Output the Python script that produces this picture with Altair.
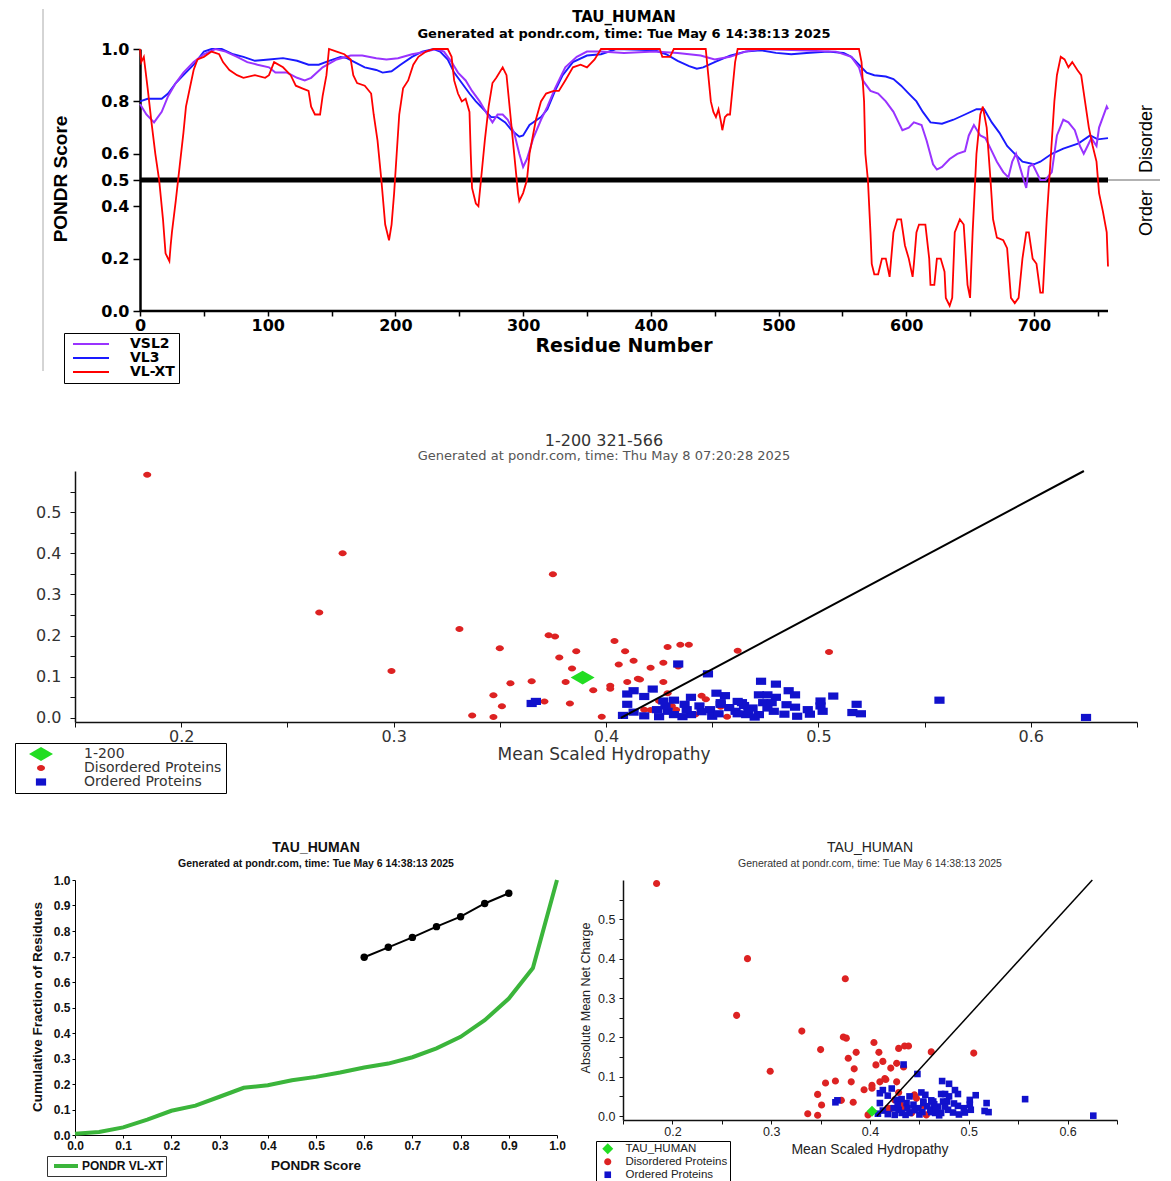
import altair as alt
import pandas as pd

# ------------------------------------------------------------------ data
# Top panel: PONDR predictions (residue, score)
VLXT = [(0,1.0),(1,0.95),(3,0.97),(6,0.85),(9,0.72),(12,0.6),(15,0.5),(18,0.35),(20,0.22),(22,0.2),(23,0.19),(24,0.25),(25,0.3),(28,0.42),(31,0.55),(34,0.68),(36,0.78),(39,0.85),(42,0.92),(45,0.96),(50,0.97),(56,0.99),(62,0.98),(65,0.95),(70,0.92),(76,0.9),(81,0.89),(90,0.9),(98,0.89),(101,0.9),(105,0.95),(112,0.93),(118,0.9),(122,0.86),(127,0.85),(132,0.84),(134,0.78),(137,0.75),(141,0.75),(143,0.82),(146,0.9),(148,1.0),(154,0.99),(160,0.98),(165,0.96),(167,0.9),(170,0.87),(176,0.86),(181,0.83),(183,0.75),(186,0.65),(189,0.5),(192,0.33),(195,0.27),(197,0.33),(199,0.45),(201,0.6),(203,0.75),(206,0.85),(210,0.88),(214,0.94),(218,0.97),(224,0.99),(230,1.0),(241,1.0),(244,0.97),(246,0.88),(249,0.83),(252,0.8),(255,0.81),(258,0.76),(259,0.6),(260,0.47),(263,0.41),(265,0.4),(267,0.5),(270,0.65),(273,0.78),(276,0.87),(279,0.89),(284,0.93),(287,0.9),(290,0.75),(293,0.6),(296,0.45),(297,0.42),(300,0.45),(303,0.5),(305,0.6),(310,0.73),(314,0.8),(318,0.83),(324,0.84),(328,0.84),(333,0.88),(339,0.93),(345,0.94),(350,0.93),(356,0.96),(361,1.0),(407,1.0),(409,0.97),(415,0.97),(418,1.0),(443,1.0),(445,0.9),(447,0.8),(449,0.76),(451,0.74),(453,0.77),(455,0.72),(456,0.69),(458,0.74),(460,0.75),(462,0.75),(464,0.85),(466,0.95),(468,1.0),(563,1.0),(565,0.95),(567,0.8),(568,0.6),(570,0.5),(572,0.3),(573,0.18),(575,0.14),(578,0.14),(581,0.2),(584,0.2),(587,0.13),(590,0.3),(593,0.35),(596,0.35),(599,0.25),(602,0.2),(605,0.13),(606,0.18),(608,0.3),(610,0.33),(615,0.33),(618,0.2),(619,0.1),(622,0.1),(624,0.2),(627,0.2),(630,0.15),(631,0.05),(634,0.02),(636,0.05),(638,0.3),(642,0.35),(645,0.33),(648,0.1),(650,0.05),(652,0.3),(655,0.6),(658,0.75),(660,0.78),(663,0.7),(666,0.5),(668,0.35),(671,0.28),(676,0.27),(679,0.24),(682,0.05),(685,0.03),(688,0.05),(691,0.2),(694,0.3),(696,0.3),(699,0.2),(702,0.18),(705,0.07),(707,0.07),(710,0.35),(712,0.5),(716,0.8),(718,0.9),(721,0.97),(724,0.96),(727,0.93),(730,0.95),(734,0.92),(737,0.9),(740,0.8),(743,0.7),(746,0.63),(749,0.57),(751,0.45),(754,0.38),(757,0.3),(758,0.17)]
VL3 = [(0,0.8),(6,0.81),(17,0.81),(22,0.83),(28,0.87),(34,0.9),(42,0.94),(50,0.99),(56,1.0),(64,1.0),(73,0.98),(81,0.97),(90,0.955),(101,0.96),(112,0.965),(123,0.955),(132,0.94),(140,0.94),(148,0.955),(157,0.97),(162,0.965),(168,0.95),(176,0.93),(185,0.92),(190,0.91),(197,0.915),(204,0.94),(213,0.97),(221,0.99),(230,1.0),(235,0.99),(241,0.96),(246,0.91),(252,0.87),(258,0.83),(263,0.8),(269,0.77),(275,0.74),(280,0.74),(286,0.72),(291,0.69),(297,0.665),(300,0.67),(305,0.71),(314,0.74),(319,0.77),(325,0.84),(331,0.9),(339,0.95),(350,0.975),(361,0.98),(373,1.0),(403,0.995),(412,0.98),(421,0.955),(430,0.935),(436,0.925),(441,0.93),(450,0.95),(462,0.975),(474,0.99),(486,0.995),(498,0.985),(510,0.98),(522,0.985),(539,0.99),(551,0.985),(557,0.97),(563,0.94),(569,0.91),(575,0.9),(584,0.895),(590,0.885),(596,0.86),(602,0.83),(608,0.8),(613,0.76),(619,0.72),(628,0.715),(637,0.73),(646,0.75),(655,0.77),(661,0.77),(667,0.72),(673,0.68),(679,0.63),(685,0.6),(691,0.57),(700,0.56),(705,0.57),(714,0.6),(723,0.62),(735,0.64),(744,0.67),(750,0.655),(758,0.66)]
VSL2 = [(0,0.79),(5,0.75),(11,0.72),(17,0.76),(22,0.82),(28,0.87),(34,0.91),(42,0.95),(50,0.98),(59,1.0),(67,0.99),(76,0.97),(84,0.95),(92,0.94),(101,0.93),(106,0.91),(115,0.91),(123,0.89),(129,0.88),(134,0.89),(143,0.93),(154,0.96),(165,0.975),(174,0.975),(185,0.965),(193,0.96),(202,0.965),(213,0.98),(224,0.99),(232,1.0),(238,0.99),(244,0.95),(249,0.91),(255,0.88),(260,0.84),(266,0.8),(272,0.75),(276,0.72),(280,0.75),(284,0.75),(288,0.73),(293,0.68),(297,0.6),(300,0.55),(303,0.58),(308,0.66),(314,0.73),(319,0.78),(325,0.85),(333,0.93),(342,0.97),(350,0.99),(361,0.99),(379,0.985),(403,0.99),(421,0.985),(439,0.975),(450,0.96),(462,0.97),(474,0.99),(486,1.0),(545,0.99),(557,0.97),(563,0.93),(566,0.88),(572,0.84),(578,0.83),(584,0.8),(590,0.76),(594,0.72),(597,0.69),(602,0.7),(606,0.72),(612,0.71),(616,0.65),(621,0.56),(624,0.54),(628,0.55),(634,0.58),(640,0.6),(646,0.61),(649,0.67),(653,0.71),(658,0.67),(662,0.66),(667,0.61),(671,0.57),(676,0.53),(680,0.51),(683,0.57),(686,0.6),(689,0.55),(692,0.5),(694,0.47),(696,0.55),(699,0.56),(702,0.53),(705,0.5),(709,0.5),(714,0.53),(718,0.67),(723,0.73),(727,0.72),(732,0.69),(736,0.63),(739,0.6),(742,0.63),(745,0.66),(749,0.63),(751,0.7),(754,0.74),(757,0.78),(758,0.77)]
PREDICTORS = ["VSL2", "VL3", "VL-XT"]
PRED_COLORS = ["#9933ff", "#1a1aff", "#ff0000"]
TOP_Y_TICKS = [0.0, 0.2, 0.4, 0.5, 0.6, 0.8, 1.0]
SEQ_LEN = 758

# Charge-hydropathy reference sets
DIS_H = [0.184,0.276,0.265,0.375,0.331,0.299,0.350,0.373,0.376,0.404,0.409,0.386,0.378,0.384,0.406,0.413,0.429,0.435,0.439,0.434,0.427,0.421,0.415,0.410,0.427,0.402,0.402,0.394,0.381,0.365,0.355,0.347,0.351,0.371,0.383,0.337,0.347,0.462,0.505,0.429,0.425,0.418,0.433,0.445,0.447,0.454,0.442,0.457,0.421,0.398,0.431,0.416]
DIS_C = [0.591,0.400,0.256,0.349,0.216,0.114,0.169,0.201,0.198,0.187,0.162,0.162,0.147,0.120,0.130,0.139,0.172,0.178,0.178,0.125,0.134,0.122,0.095,0.087,0.087,0.078,0.071,0.067,0.087,0.089,0.084,0.055,0.028,0.040,0.035,0.006,0.002,0.163,0.160,0.060,0.041,0.020,0.020,0.054,0.045,0.027,0.008,0.003,0.019,0.003,0.029,0.093]
ORD_H = [0.365,0.367,0.434,0.448,0.413,0.410,0.422,0.410,0.413,0.408,
         0.427,0.432,0.437,0.424,0.429,0.432,0.440,0.444,0.449,0.454,
         0.456,0.461,0.464,0.469,0.466,0.425,0.436,0.473,0.480,0.486,
         0.489,0.472,0.476,0.480,0.474,0.478,0.465,0.462,0.452,0.454,
         0.489,0.501,0.507,0.501,0.502,0.496,0.518,0.516,0.520,0.557,
         0.626,0.484,0.472,0.462,0.467,0.479,0.418,0.445,0.450,0.458,
         0.470,0.490,0.495,0.440,0.438,0.453,0.476,0.485,0.428,0.418]
ORD_C = [0.035,0.040,0.131,0.107,0.066,0.058,0.070,0.033,0.014,0.006,
         0.041,0.043,0.033,0.020,0.016,0.008,0.008,0.029,0.020,0.037,
         0.054,0.016,0.037,0.024,0.008,0.003,0.003,0.089,0.082,0.066,
         0.056,0.056,0.056,0.050,0.037,0.037,0.030,0.040,0.060,0.033,
         0.026,0.041,0.053,0.029,0.016,0.009,0.033,0.013,0.010,0.043,
         0.001,0.009,0.008,0.010,0.016,0.016,0.005,0.015,0.004,0.025,
         0.002,0.004,0.020,0.050,0.020,0.010,0.024,0.032,0.029,0.052]
BOUNDARY_H = [0.407, 0.625]
BOUNDARY_C = [0.0, 0.6]
REGION_POINT = (0.389, 0.098)   # "1-200"
TAU_POINT = (0.402, 0.012)      # TAU_HUMAN
SC_TICKS_X = [0.15, 0.2, 0.25, 0.3, 0.35, 0.4, 0.45, 0.5, 0.55, 0.6, 0.65]
SC_TICKS_Y = [0.0, 0.05, 0.1, 0.15, 0.2, 0.25, 0.3, 0.35, 0.4, 0.45, 0.5, 0.55]

# CDF panel
CDF_X = [0.0,0.05,0.1,0.15,0.2,0.25,0.3,0.35,0.4,0.45,0.5,0.55,0.6,0.65,0.7,0.75,0.8,0.85,0.9,0.95,1.0]
CDF_Y = [0.005,0.012,0.03,0.06,0.095,0.115,0.15,0.185,0.195,0.215,0.228,0.245,0.265,0.28,0.305,0.34,0.385,0.45,0.535,0.655,1.0]
REF_X = [0.6,0.65,0.7,0.75,0.8,0.85,0.9]
REF_Y = [0.697,0.736,0.775,0.817,0.856,0.908,0.948]
CDF_TICKS = [0.0,0.1,0.2,0.3,0.4,0.5,0.6,0.7,0.8,0.9,1.0]

GREEN_PT = "#22dd22"
RED_PT = "#dd2222"
BLUE_PT = "#1111cc"
SUB_TOP = "Generated at pondr.com, time: Tue May  6 14:38:13 2025"
SUB_MID = "Generated at pondr.com, time: Thu May  8 07:20:28 2025"

WIDE = "DejaVu Sans"
NARROW = "Liberation Sans Narrow, Liberation Sans"
ARIAL = "Liberation Sans"


def txt(s, x, y, size, font, weight="normal", color="black", angle=0,
        align="center", baseline="middle"):
    return alt.Chart(pd.DataFrame({"t": [s]})).mark_text(
        font=font, fontSize=size, fontWeight=weight, color=color, angle=angle,
        align=align, baseline=baseline
    ).encode(x=alt.value(x), y=alt.value(y), text="t:N")


def anchor(x, y):
    return alt.Chart(pd.DataFrame({"t": ["."]})).mark_text(
        fontSize=1, opacity=0, align="left", baseline="top"
    ).encode(x=alt.value(x), y=alt.value(y), text="t:N")


LBL_EXPR = "round(datum.value*100) % 10 === 0 ? format(datum.value, '.1f') : ''"

# ------------------------------------------------------------------ top panel
# plot origin shared with the panels below; the residue axis starts 65 px in
PX_PER_RES = 968 / SEQ_LEN
LEFT_GAP = 65
TOP_W, TOP_H = 968 + LEFT_GAP, 262
rows = []
for name, series in (("VL3", VL3), ("VSL2", VSL2), ("VL-XT", VLXT)):
    for r, v in series:
        rows.append({"residue": r, "score": v, "predictor": name})
top_df = pd.DataFrame(rows)

x_top = alt.X("residue:Q",
              scale=alt.Scale(domain=[-LEFT_GAP / PX_PER_RES, SEQ_LEN], nice=False, zero=False),
              axis=alt.Axis(values=list(range(0, 751, 50)),
                            labelExpr="datum.value % 100 === 0 ? datum.label : ''",
                            title=None, grid=False, domain=False,
                            tickColor="black", tickWidth=1.5, tickSize=5,
                            labelFont=WIDE, labelFontWeight="bold", labelFontSize=16,
                            labelColor="black", labelPadding=1, labelOverlap=False,
                            labelFlush=False, labelBound=False))
y_top = alt.Y("score:Q", scale=alt.Scale(domain=[0, 1], nice=False, zero=False),
              axis=alt.Axis(values=TOP_Y_TICKS, format=".1f", title=None, grid=False,
                            offset=-LEFT_GAP,
                            domainColor="black", domainWidth=2.5, tickColor="black",
                            tickWidth=1.5, tickSize=7, labelFont=WIDE, labelFontWeight="bold",
                            labelFontSize=16, labelColor="black", labelPadding=4,
                            labelOverlap=False, labelFlush=False, labelBound=False))

half_df = pd.DataFrame({"score": [0.5]})
rule05 = alt.Chart(half_df).mark_rule(color="black", strokeWidth=5).encode(
    y=y_top, x=alt.datum(0), x2=alt.datum(SEQ_LEN))
rule_ext = alt.Chart(half_df).mark_rule(color="#666", strokeWidth=1).encode(
    y=y_top, x=alt.datum(SEQ_LEN), x2=alt.value(1085))
x_base = alt.Chart(pd.DataFrame({"t": [0]})).mark_rule(color="black", strokeWidth=2.5).encode(
    x=alt.datum(0), x2=alt.datum(SEQ_LEN), y=alt.value(TOP_H))
border = alt.Chart(pd.DataFrame({"t": [0]})).mark_rule(color="#aaa", strokeWidth=1).encode(
    x=alt.value(-32), y=alt.value(-40), y2=alt.value(322))

top_lines = alt.Chart(top_df).mark_line().encode(
    x=x_top, y=y_top,
    color=alt.Color("predictor:N",
                    scale=alt.Scale(domain=PREDICTORS, range=PRED_COLORS),
                    legend=alt.Legend(title=None, orient="none", legendX=-11, legendY=284,
                                      strokeColor="black", padding=4, rowPadding=0,
                                      symbolType="M-3,0H3", symbolSize=144,
                                      symbolStrokeWidth=2, symbolOffset=16, labelOffset=32,
                                      labelFont=WIDE, labelFontWeight="bold",
                                      labelFontSize=14, labelColor="black")),
    strokeWidth=alt.StrokeWidth("predictor:N",
                                scale=alt.Scale(domain=PREDICTORS, range=[2.0, 1.8, 2.6]),
                                legend=None),
)

TOP_CX = LEFT_GAP + 484
top = alt.layer(
    border, rule05, rule_ext, x_base, top_lines,
    txt("TAU_HUMAN", TOP_CX, -32, 15, WIDE, "bold"),
    txt(SUB_TOP, TOP_CX, -15, 13, WIDE, "bold"),
    txt("Residue Number", TOP_CX, 297, 19, WIDE, "bold"),
    txt("PONDR Score", -14, 130, 19, NARROW, "bold", angle=270),
    txt("Disorder", 1072, 90, 18, NARROW, angle=270),
    txt("Order", 1072, 164, 18, NARROW, angle=270),
    anchor(-67, -40), anchor(-67, 360),
).properties(width=TOP_W, height=TOP_H)


# ------------------------------------------------------------------ scatter builder
def scatter(point_label, point, shapes, font, lab_size, lab_color, legend_kw,
            line_w, sym_size, x_pad, y_pad, tick):
    df = pd.DataFrame({
        "hydropathy": DIS_H + ORD_H + [point[0]],
        "charge": DIS_C + ORD_C + [point[1]],
        "set": ["Disordered Proteins"] * len(DIS_H) + ["Ordered Proteins"] * len(ORD_H) + [point_label],
    })
    domain = [point_label, "Disordered Proteins", "Ordered Proteins"]
    ax_common = dict(title=None, grid=False, domainColor="#111", domainWidth=1.5,
                     tickColor="#111", tickWidth=1, tickSize=tick, labelFont=font,
                     labelFontSize=lab_size, labelColor=lab_color, labelExpr=LBL_EXPR,
                     labelOverlap=False, labelFlush=False, labelBound=False)
    x = alt.X("hydropathy:Q", scale=alt.Scale(domain=[0.15, 0.65], nice=False, zero=False),
              axis=alt.Axis(values=SC_TICKS_X, labelPadding=x_pad, **ax_common))
    y = alt.Y("charge:Q", scale=alt.Scale(domain=[-0.01, 0.6], nice=False, zero=False),
              axis=alt.Axis(values=SC_TICKS_Y, labelPadding=y_pad, **ax_common))
    leg = alt.Legend(title=None, orient="none", strokeColor="black", rowPadding=0,
                     symbolSize=sym_size, symbolStrokeWidth=0, labelFont=font,
                     labelColor=lab_color, **legend_kw)
    pts = alt.Chart(df).mark_point(filled=True, size=sym_size, opacity=1, strokeWidth=0).encode(
        x=x, y=y,
        color=alt.Color("set:N", scale=alt.Scale(domain=domain, range=[GREEN_PT, RED_PT, BLUE_PT]),
                        legend=leg),
        shape=alt.Shape("set:N", scale=alt.Scale(domain=domain, range=shapes), legend=leg),
    )
    bdf = pd.DataFrame({"hydropathy": BOUNDARY_H, "charge": BOUNDARY_C})
    bline = alt.Chart(bdf).mark_line(color="black", strokeWidth=line_w).encode(x=x, y=y)
    return pts, bline


# ------------------------------------------------------------------ middle panel
MID_W, MID_H = 1062, 251
mid_shapes = ["M-2,0L0,-1.15L2,0L0,1.15Z",
              "M-0.67,0A0.67,0.5 0 1,0 0.67,0A0.67,0.5 0 1,0 -0.67,0Z",
              "M-0.85,-0.6H0.85V0.6H-0.85Z"]
mid_pts, mid_line = scatter(
    "1-200", REGION_POINT, mid_shapes, WIDE, 16, "#333",
    dict(legendX=-60, legendY=272, padding=4, symbolOffset=15, labelOffset=36, labelFontSize=14),
    2, 144, 1, 9, 5)
middle = alt.layer(
    mid_pts, mid_line,
    txt("1-200 321-566", MID_W / 2 - 2, -30, 16, WIDE, color="#333"),
    txt(SUB_MID, MID_W / 2 - 2, -15, 13, WIDE, color="#555"),
    txt("Mean Scaled Hydropathy", MID_W / 2 - 2, 284, 17, WIDE, color="#333"),
    anchor(-67, -61), anchor(-67, 361),
).properties(width=MID_W, height=MID_H)

# ------------------------------------------------------------------ bottom-left (CDF)
BL_W, BL_H = 482, 255
bl_ax = dict(values=CDF_TICKS, format=".1f", title=None, grid=False, domainColor="black",
             domainWidth=1, tickColor="black", tickSize=3, labelFont=ARIAL,
             labelFontWeight="bold", labelFontSize=12, labelColor="#111",
             labelOverlap=False, labelFlush=False, labelBound=False)
x_bl = alt.X("score:Q", scale=alt.Scale(domain=[0, 1], nice=False, zero=False),
             axis=alt.Axis(labelPadding=2, **bl_ax))
y_bl = alt.Y("fraction:Q", scale=alt.Scale(domain=[0, 1], nice=False, zero=False),
             axis=alt.Axis(labelPadding=2, **bl_ax))
cdf_df = pd.DataFrame({"score": CDF_X, "fraction": CDF_Y, "series": ["PONDR VL-XT"] * len(CDF_X)})
ref_df = pd.DataFrame({"score": REF_X, "fraction": REF_Y})
cdf_line = alt.Chart(cdf_df).mark_line(strokeWidth=4).encode(
    x=x_bl, y=y_bl,
    color=alt.Color("series:N", scale=alt.Scale(domain=["PONDR VL-XT"], range=["#3bb53b"]),
                    legend=alt.Legend(title=None, orient="none", legendX=-28, legendY=276,
                                      strokeColor="#333", padding=2, symbolType="M-2,0H2",
                                      symbolSize=144, symbolStrokeWidth=4, symbolOffset=9,
                                      labelOffset=8, labelFont=ARIAL, labelFontWeight="bold",
                                      labelFontSize=12, labelColor="#111")))
ref_line = alt.Chart(ref_df).mark_line(
    color="black", strokeWidth=2,
    point=alt.OverlayMarkDef(filled=True, size=55, color="black")).encode(x=x_bl, y=y_bl)
bl = alt.layer(
    cdf_line, ref_line,
    txt("TAU_HUMAN", BL_W / 2, -32, 14, ARIAL, "bold", color="#111"),
    txt(SUB_TOP, BL_W / 2, -16, 10.5, ARIAL, "bold", color="#111"),
    txt("PONDR Score", BL_W / 2, 286, 13.5, ARIAL, "bold", color="#111"),
    txt("Cumulative Fraction of Residues", -37, 127, 13.5, ARIAL, "bold", color="#111", angle=270),
    anchor(-67, -47), anchor(500, -47),
).properties(width=BL_W, height=BL_H)

# ------------------------------------------------------------------ bottom-right
BR_W, BR_H = 494, 240
br_shapes = ["M-1,0L0,-1L1,0L0,1Z",
             "M-0.65,0A0.65,0.65 0 1,0 0.65,0A0.65,0.65 0 1,0 -0.65,0Z",
             "M-0.6,-0.6H0.6V0.6H-0.6Z"]
br_pts, br_line = scatter(
    "TAU_HUMAN", TAU_POINT, br_shapes, ARIAL, 12.5, "#222",
    dict(legendX=-27, legendY=261, padding=2, symbolOffset=4, labelOffset=12, labelFontSize=11.5),
    1.5, 121, 1, 4, 4)
br = alt.layer(
    br_pts, br_line,
    txt("TAU_HUMAN", BR_W / 2, -32, 14, ARIAL, color="#222"),
    txt(SUB_TOP, BR_W / 2, -16, 10.5, ARIAL, color="#333"),
    txt("Mean Scaled Hydropathy", BR_W / 2, 270, 14, ARIAL, color="#222"),
    txt("Absolute Mean Net Charge", -37, 118, 12.5, ARIAL, color="#222", angle=270),
    anchor(-47, -47),
).properties(width=BR_W, height=BR_H)

bottom = alt.hconcat(bl, br, spacing=0).resolve_scale(
    color="independent", shape="independent").resolve_legend(
    color="independent", shape="independent")

chart = alt.vconcat(top, middle, bottom, spacing=0).resolve_scale(
    color="independent", shape="independent", strokeWidth="independent").resolve_legend(
    color="independent", shape="independent", strokeWidth="independent").properties(
    padding=0).configure_view(stroke=None)

chart.save("out.html", embed_options={"renderer": "svg", "actions": False})
